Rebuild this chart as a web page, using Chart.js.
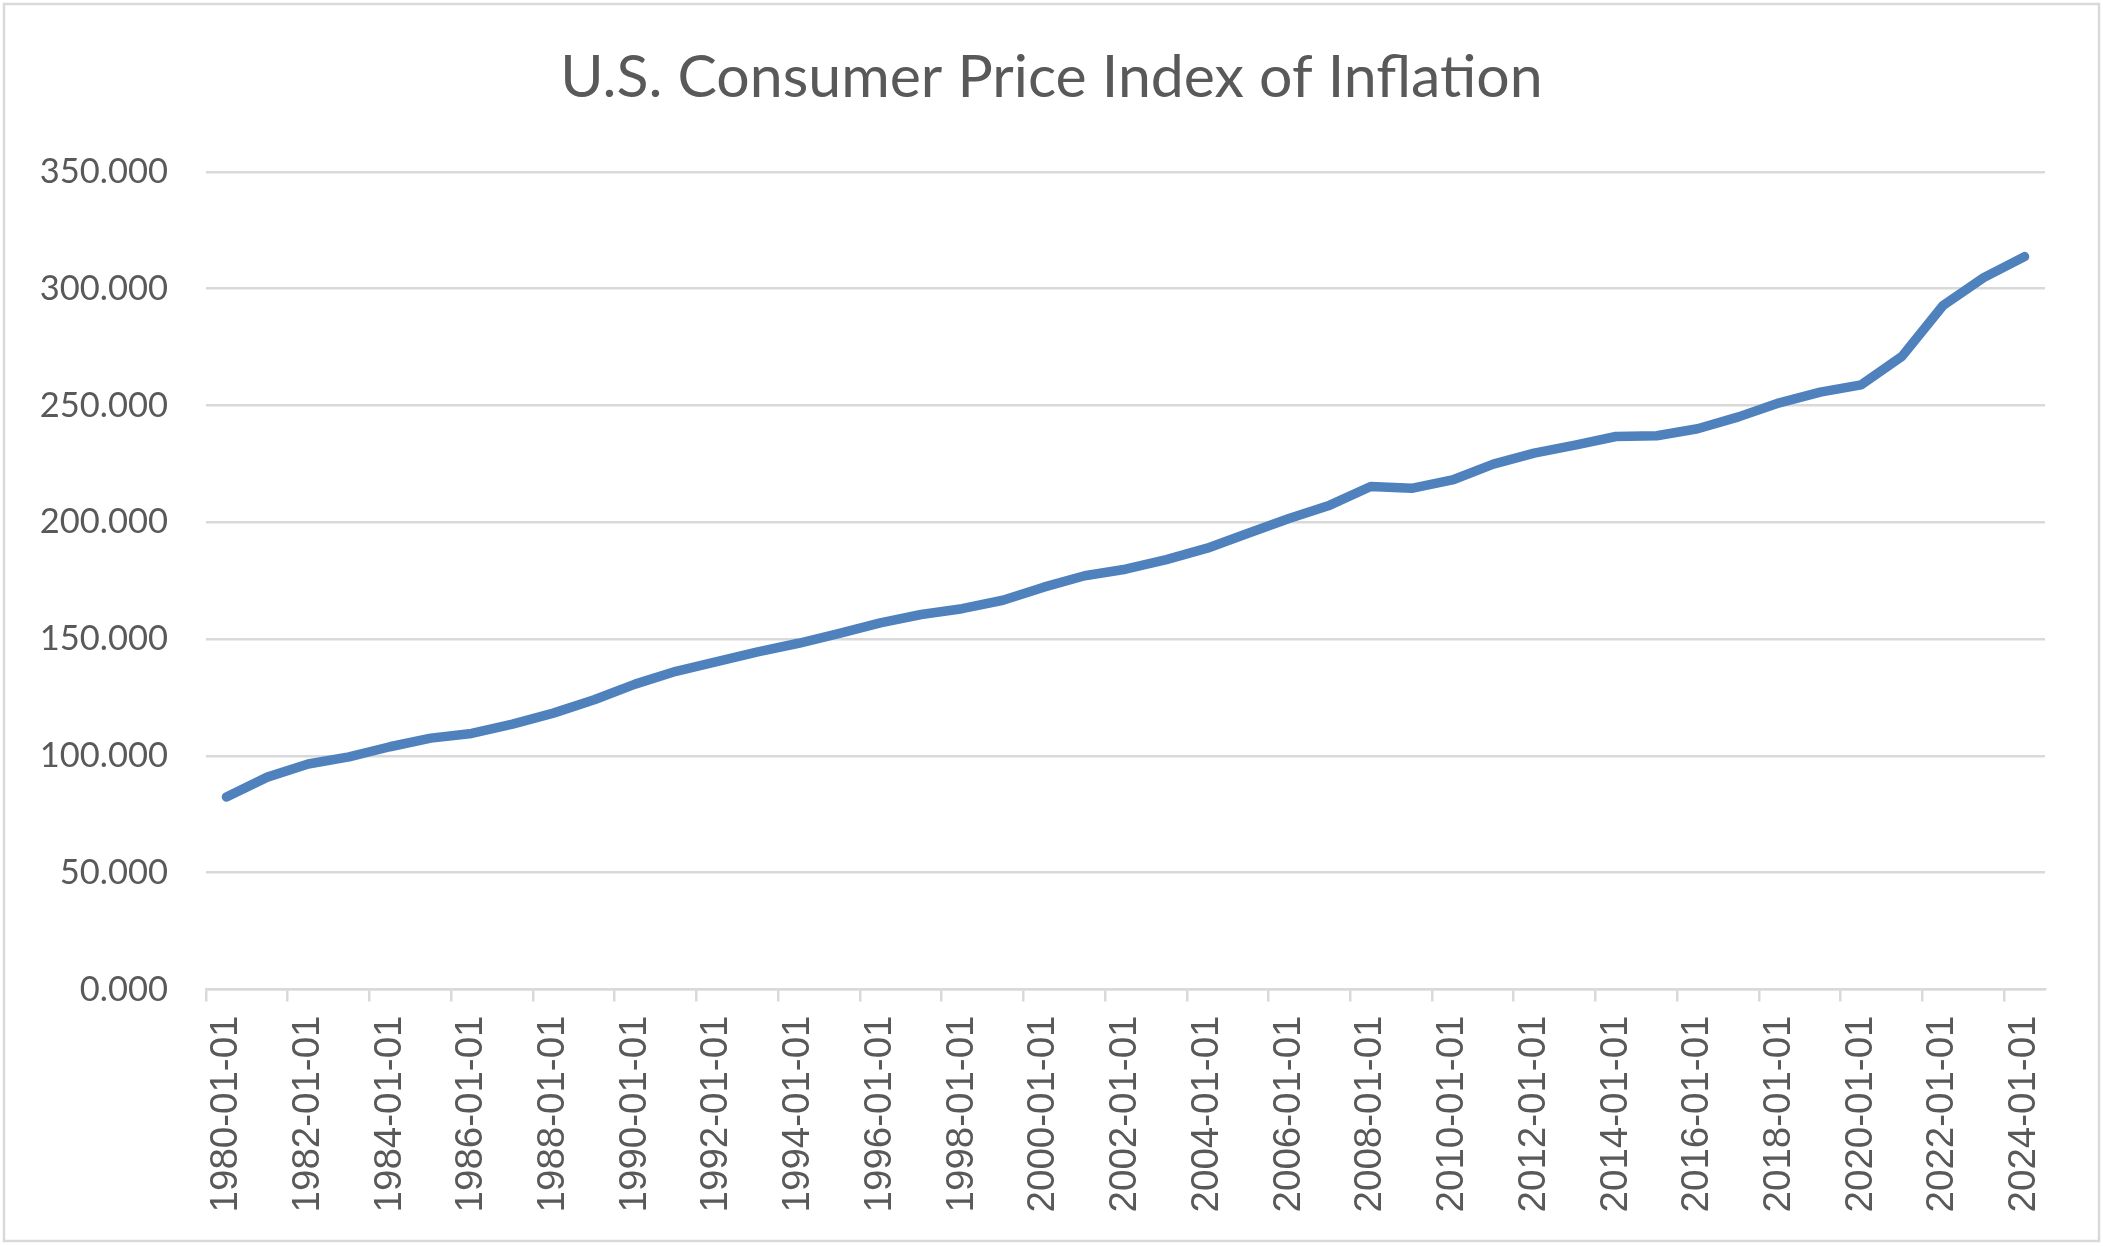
<!DOCTYPE html>
<html>
<head>
<meta charset="utf-8">
<script src="https://cdn.jsdelivr.net/npm/chart.js@4.4.1/dist/chart.umd.min.js"></script>
<style>
  html, body { margin: 0; padding: 0; background: #ffffff; }
  #wrap { width: 2103px; height: 1246px; position: relative; }
</style>
</head>
<body>
<div id="wrap"><canvas id="c"></canvas></div>
<script>
const chartTitle = "U.S. Consumer Price Index of Inflation";

const categories = [
  "1980-01-01","1981-01-01","1982-01-01","1983-01-01","1984-01-01",
  "1985-01-01","1986-01-01","1987-01-01","1988-01-01","1989-01-01",
  "1990-01-01","1991-01-01","1992-01-01","1993-01-01","1994-01-01",
  "1995-01-01","1996-01-01","1997-01-01","1998-01-01","1999-01-01",
  "2000-01-01","2001-01-01","2002-01-01","2003-01-01","2004-01-01",
  "2005-01-01","2006-01-01","2007-01-01","2008-01-01","2009-01-01",
  "2010-01-01","2011-01-01","2012-01-01","2013-01-01","2014-01-01",
  "2015-01-01","2016-01-01","2017-01-01","2018-01-01","2019-01-01",
  "2020-01-01","2021-01-01","2022-01-01","2023-01-01","2024-01-01"
];

const cpiValues = [
  82.4, 90.9, 96.5, 99.6, 103.9,
  107.6, 109.6, 113.6, 118.3, 124.0,
  130.7, 136.2, 140.3, 144.5, 148.2,
  152.4, 156.9, 160.5, 163.0, 166.6,
  172.2, 177.1, 179.9, 184.0, 188.9,
  195.3, 201.6, 207.3, 215.3, 214.5,
  218.1, 224.9, 229.6, 233.0, 236.7,
  237.0, 240.0, 245.1, 251.1, 255.7,
  258.8, 271.0, 292.7, 304.7, 313.7
];

const yTickValues = [0, 50, 100, 150, 200, 250, 300, 350];

const borderPlugin = {
  id: 'outerBorder',
  beforeDraw(chart) {
    const ctx = chart.ctx;
    ctx.save();
    ctx.fillStyle = '#ffffff';
    ctx.fillRect(0, 0, chart.width, chart.height);
    ctx.strokeStyle = '#d9d9d9';
    ctx.lineWidth = 2.5;
    ctx.strokeRect(4, 4, chart.width - 8, chart.height - 9);
    ctx.restore();
  }
};

new Chart(document.getElementById('c'), {
  type: 'line',
  data: {
    labels: categories,
    datasets: [{
      label: 'CPI',
      data: cpiValues,
      borderColor: '#4f81bd',
      backgroundColor: '#4f81bd',
      borderWidth: 9.5,
      pointRadius: 0,
      pointHoverRadius: 0,
      tension: 0,
      borderCapStyle: 'round',
      borderJoinStyle: 'round',
      fill: false
    }]
  },
  plugins: [borderPlugin],
  options: {
    responsive: true,
    maintainAspectRatio: false,
    animation: false,
    devicePixelRatio: 1,
    layout: { padding: { left: 0, right: 0, top: 0, bottom: 0 } },
    plugins: {
      legend: { display: false },
      tooltip: { enabled: false },
      title: {
        display: true,
        text: chartTitle,
        color: '#595959',
        font: { family: 'Lato', size: 59, weight: 'normal', lineHeight: 1.2 },
        padding: { top: 43, bottom: 58 }
      }
    },
    scales: {
      x: {
        type: 'category',
        offset: true,
        afterFit(scale) { scale.height = 256.5; },
        grid: {
          offset: true,
          drawOnChartArea: false,
          drawTicks: true,
          tickLength: 12,
          lineWidth: 2.5,
          color: (c) => (c.index % 2 === 0 ? '#d9d9d9' : 'rgba(0,0,0,0)')
        },
        border: { display: true, color: '#d9d9d9', width: 2.5 },
        ticks: {
          autoSkip: false,
          minRotation: 90,
          maxRotation: 90,
          padding: 14,
          color: '#595959',
          font: { family: 'Liberation Sans', size: 38.5 },
          callback: function (val, idx) {
            return idx % 2 === 0 ? categories[idx] : '';
          }
        }
      },
      y: {
        min: 0,
        max: 350,
        afterFit(scale) { scale.width = 206; },
        afterBuildTicks(scale) {
          scale.ticks = yTickValues.map(v => ({ value: v }));
        },
        grid: {
          drawTicks: false,
          color: '#d9d9d9',
          lineWidth: 2.5
        },
        border: { display: false },
        ticks: {
          padding: 38,
          color: '#595959',
          font: { family: 'Lato', size: 34.5 },
          callback: (v) => Number(v).toFixed(3)
        }
      },
      yRightSpace: {
        type: 'linear',
        position: 'right',
        display: true,
        afterFit(scale) { scale.width = 58; },
        grid: { display: false, drawOnChartArea: false, drawTicks: false },
        border: { display: false },
        ticks: { display: false }
      }
    }
  }
});
</script>
</body>
</html>
